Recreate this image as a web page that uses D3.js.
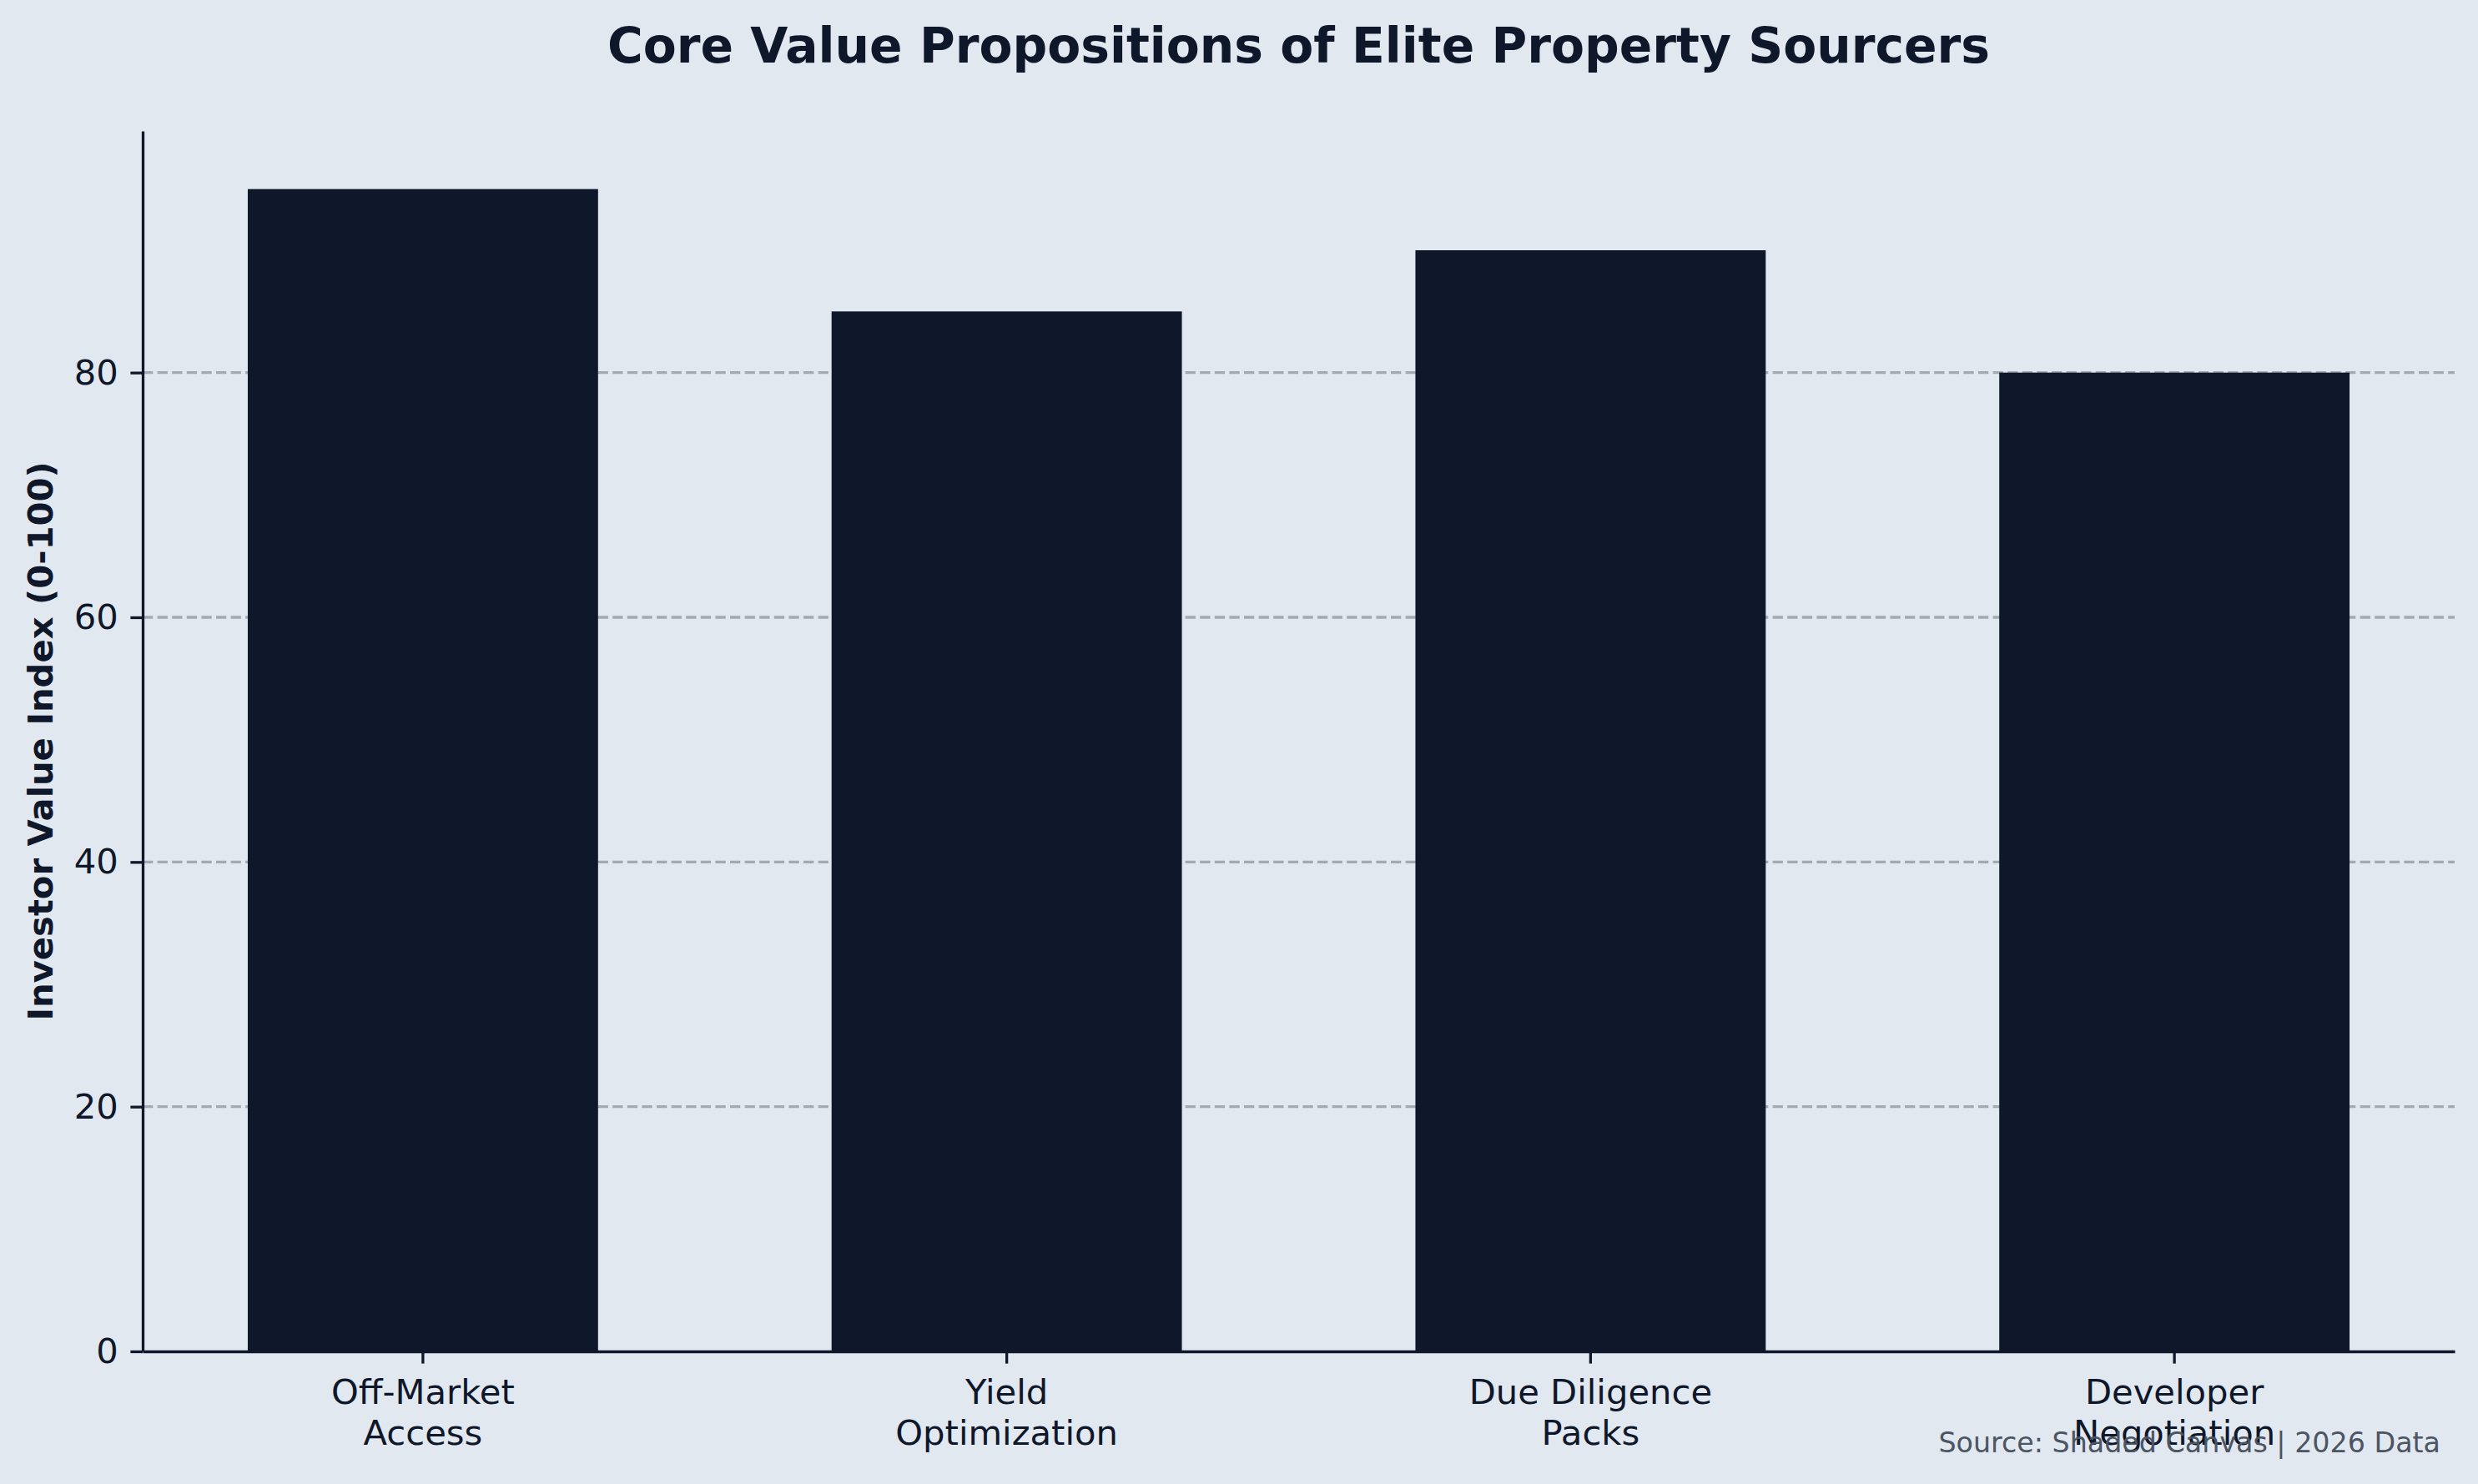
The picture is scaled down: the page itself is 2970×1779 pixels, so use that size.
<!DOCTYPE html>
<html>
<head>
<meta charset="utf-8">
<script src="https://cdn.jsdelivr.net/npm/d3@7"></script>
<style>
  body { margin: 0; background: #e2e8f0; }
  svg { display: block; font-family: "DejaVu Sans", sans-serif; }
</style>
</head>
<body>
<svg id="chart"></svg>
<script>
// chart data
const categories = ["Off-Market\nAccess", "Yield\nOptimization", "Due Diligence\nPacks", "Developer\nNegotiation"];
const values = [95, 85, 90, 80];
const yTicks = [0, 20, 40, 60, 80];

const W = 2970, H = 1779;
const margin = { top: 157, right: 28, bottom: 159, left: 171 };
const width = W - margin.left - margin.right;
const height = H - margin.top - margin.bottom;

const ink = "#0f172a";

const svg = d3.select("#chart")
    .attr("width", W)
    .attr("height", H);

svg.append("rect")
    .attr("width", W)
    .attr("height", H)
    .attr("fill", "#e2e8f0");

const chart = svg.append("g")
    .attr("transform", `translate(${margin.left},${margin.top})`);

// scales (matplotlib style: bar width 0.6, 5% x margins, y headroom 5%)
const xScale = d3.scaleBand()
    .domain(categories)
    .range([0, width])
    .paddingInner(0.4)
    .paddingOuter(0.18);

const yScale = d3.scaleLinear()
    .domain([0, d3.max(values) * 1.05])
    .range([height, 0]);

// grid lines behind bars
chart.append("g")
    .attr("class", "grid")
    .selectAll("line")
    .data(yTicks.filter(d => d > 0))
    .join("line")
        .attr("x1", 0)
        .attr("x2", width)
        .attr("y1", d => yScale(d))
        .attr("y2", d => yScale(d))
        .attr("stroke", "#a3a9b3")
        .attr("stroke-width", 3.3)
        .attr("stroke-dasharray", "12.3 5.3");

// bars
chart.selectAll(".bar")
    .data(values)
    .join("rect")
        .attr("class", "bar")
        .attr("x", (d, i) => xScale(categories[i]))
        .attr("y", d => yScale(d))
        .attr("width", xScale.bandwidth())
        .attr("height", d => height - yScale(d))
        .attr("fill", ink);

// y axis
const yAxis = d3.axisLeft(yScale)
    .tickValues(yTicks)
    .tickSize(14.6)
    .tickPadding(14.6)
    .tickSizeOuter(0);

const yAxisG = chart.append("g").call(yAxis);
yAxisG.select(".domain").attr("stroke", ink).attr("stroke-width", 3.3);
yAxisG.selectAll(".tick line").attr("stroke", ink).attr("stroke-width", 3.3);
yAxisG.selectAll(".tick text")
    .attr("fill", ink)
    .attr("font-size", 41.7)
    .attr("font-family", "DejaVu Sans");

// x axis
const xAxis = d3.axisBottom(xScale)
    .tickSize(14.6)
    .tickPadding(14.6)
    .tickSizeOuter(0);

const xAxisG = chart.append("g")
    .attr("transform", `translate(0,${height})`)
    .call(xAxis);
xAxisG.select(".domain").attr("stroke", ink).attr("stroke-width", 3.3);
xAxisG.selectAll(".tick line").attr("stroke", ink).attr("stroke-width", 3.3);
xAxisG.selectAll(".tick text")
    .attr("fill", ink)
    .attr("font-size", 41.7)
    .attr("font-family", "DejaVu Sans")
    .attr("dy", null)
    .text(null)
    .each(function(d) {
        const t = d3.select(this);
        d.split("\n").forEach((line, i) => {
            t.append("tspan")
                .attr("x", 0)
                .attr("dy", i === 0 ? "0.81em" : "1.17em")
                .text(line);
        });
    });

// title
svg.append("text")
    .attr("x", margin.left + width / 2)
    .attr("y", 75)
    .attr("text-anchor", "middle")
    .attr("font-size", 58.3)
    .attr("font-weight", "bold")
    .attr("fill", ink)
    .text("Core Value Propositions of Elite Property Sourcers");

// y label
svg.append("text")
    .attr("transform", `translate(63,${margin.top + height / 2}) rotate(-90)`)
    .attr("text-anchor", "middle")
    .attr("font-size", 41.7)
    .attr("font-weight", "bold")
    .attr("fill", ink)
    .text("Investor Value Index (0-100)");

// source note
svg.append("text")
    .attr("x", 2925)
    .attr("y", 1741)
    .attr("text-anchor", "end")
    .attr("font-size", 33.3)
    .attr("fill", "#4b5563")
    .text("Source: Shaded Canvas | 2026 Data");
</script>
</body>
</html>
